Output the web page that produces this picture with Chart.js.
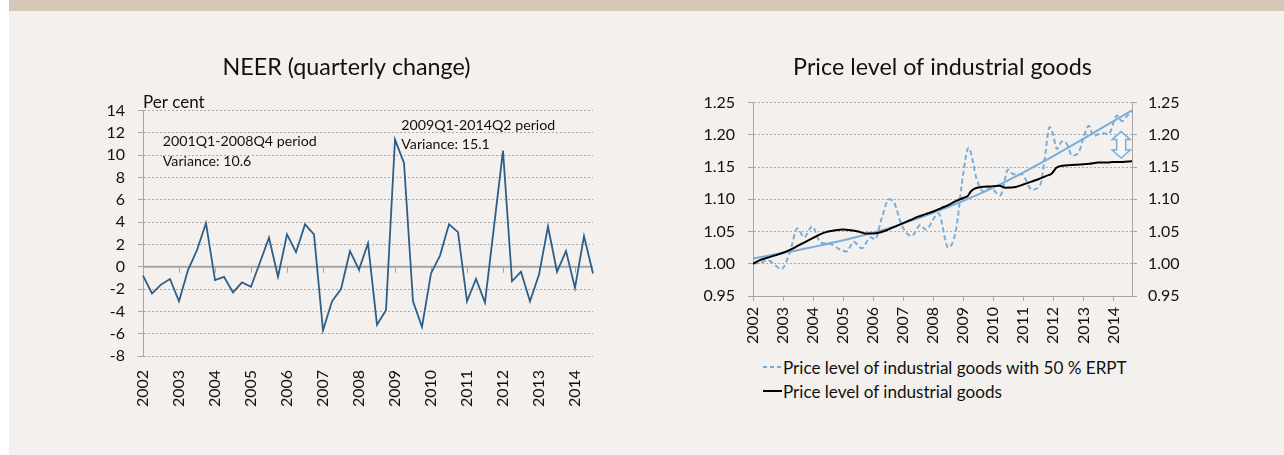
<!DOCTYPE html>
<html>
<head>
<meta charset="utf-8">
<script src="https://cdn.jsdelivr.net/npm/chart.js@4.4.1/dist/chart.umd.min.js"></script>
<style>
body{margin:0;width:1284px;height:455px;background:#fff;position:relative;overflow:hidden;font-family:Lato,sans-serif;}
#panel{position:absolute;left:9px;top:0;width:1275px;height:455px;background:#f3f0ed;}
#band{position:absolute;left:9px;top:0;width:1275px;height:11px;background:#d4c7b6;}
#neer{position:absolute;left:100px;top:40px;}
#price{position:absolute;left:698px;top:40px;}
#legend{position:absolute;left:763px;top:355px;font-size:17.1px;color:#111;}
.row{height:24px;display:flex;align-items:center;white-space:nowrap;}
.row svg{margin-right:1px;}
</style>
</head>
<body>
<div id="panel"></div>
<div id="band"></div>
<canvas id="neer" width="502" height="376"></canvas>
<canvas id="price" width="489" height="306"></canvas>
<div id="legend"></div>
<script>
// left chart: NEER quarterly change, per cent
const years = ['2002','2003','2004','2005','2006','2007','2008','2009','2010','2011','2012','2013','2014'];
const neer = [-0.8, -2.4, -1.6, -1.1, -3.1, -0.3, 1.5, 3.9, -1.2, -0.9, -2.3, -1.4, -1.8, 0.4, 2.6, -0.9,
  2.9, 1.3, 3.8, 2.9, -5.7, -3.1, -2.0, 1.4, -0.25, 2.1, -5.2, -3.9, 11.4, 9.3, -3.1, -5.4,
  -0.6, 1.0, 3.8, 3.1, -3.1, -1.1, -3.2, 3.6, 10.4, -1.3, -0.45, -3.1, -0.7, 3.6, -0.45, 1.4,
  -1.9, 2.75, -0.6];
const notes = [
  ['2001Q1-2008Q4 period', 'Variance: 10.6'],
  ['2009Q1-2014Q2 period', 'Variance: 15.1']
];

let quarters = [];
years.forEach(y => { ['Q1','Q2','Q3','Q4'].forEach(q => quarters.push(y + q)); });
quarters = quarters.slice(0, neer.length);

// right chart: price level of industrial goods
const ipgX = [2002.0, 2002.25, 2002.6, 2003.0, 2003.25, 2003.5, 2003.75, 2004.0, 2004.25, 2004.5, 2004.75,
  2005.0, 2005.25, 2005.5, 2005.75, 2006.0, 2006.25, 2006.5, 2006.75, 2007.0, 2007.25, 2007.5, 2007.75,
  2008.0, 2008.25, 2008.5, 2008.75, 2009.0, 2009.15, 2009.25, 2009.4, 2009.6, 2009.9, 2010.2, 2010.4,
  2010.75, 2011.0, 2011.25, 2011.5, 2011.75, 2011.95, 2012.1, 2012.3, 2012.6, 2012.9, 2013.2, 2013.5,
  2013.8, 2014.0, 2014.3, 2014.62];
const ipgY = [1.000, 1.006, 1.011, 1.017, 1.022, 1.028, 1.034, 1.040, 1.046, 1.050, 1.052,
  1.053, 1.052, 1.050, 1.047, 1.047, 1.049, 1.053, 1.058, 1.063, 1.068, 1.073, 1.077,
  1.081, 1.086, 1.091, 1.097, 1.102, 1.105, 1.112, 1.117, 1.119, 1.120, 1.121, 1.118,
  1.119, 1.123, 1.127, 1.131, 1.136, 1.140, 1.149, 1.152, 1.153, 1.154, 1.155, 1.157,
  1.157, 1.158, 1.158, 1.159];
const erptX = [2002.0, 2002.25, 2002.5, 2002.95, 2003.23, 2003.48, 2003.7, 2003.97, 2004.25, 2004.55, 2004.9,
  2005.12, 2005.35, 2005.62, 2005.92, 2006.07, 2006.28, 2006.53, 2006.7, 2006.95, 2007.28, 2007.57, 2007.75,
  2008.18, 2008.5, 2008.75, 2009.0, 2009.18, 2009.45, 2009.68, 2009.9, 2010.23, 2010.5, 2010.67, 2010.95,
  2011.28, 2011.57, 2011.7, 2011.88, 2011.99, 2012.12, 2012.29, 2012.46, 2012.62, 2012.84, 2013.0, 2013.18,
  2013.34, 2013.62, 2013.84, 2014.12, 2014.29, 2014.45, 2014.62];
const erptY = [1.000, 1.002, 1.005, 0.992, 1.018, 1.055, 1.041, 1.058, 1.033, 1.031, 1.022,
  1.019, 1.034, 1.024, 1.041, 1.038, 1.070, 1.100, 1.095, 1.060, 1.043, 1.060, 1.053,
  1.078, 1.025, 1.050, 1.140, 1.180, 1.131, 1.112, 1.118, 1.106, 1.146, 1.139, 1.139,
  1.115, 1.123, 1.158, 1.212, 1.201, 1.178, 1.190, 1.185, 1.168, 1.172, 1.195, 1.214,
  1.198, 1.203, 1.201, 1.230, 1.221, 1.229, 1.237];
const trendX = [2002, 2004, 2006, 2008, 2010, 2012, 2014.62];
const trendY = [1.008, 1.026, 1.048, 1.079, 1.118, 1.167, 1.238];
const gapAt = 2014.26, gapTop = 1.205, gapBottom = 1.164;

const erptLabel = 'Price level of industrial goods with 50 % ERPT';
const ipgLabel = 'Price level of industrial goods';

Chart.defaults.font.family = 'Lato, "Noto Sans", sans-serif';
Chart.defaults.color = '#111';

const axisGrey = '#a6a6a6';
const dotGrey = '#ababab';
const lightBlue = '#7aaed9';

function pts(xs, ys){
  return xs.map((x, i) => ({x: x, y: ys[i]}));
}

const neerExtras = {
  id: 'neerExtras',
  beforeDatasetsDraw(chart){
    const {ctx, chartArea, scales} = chart;
    const y0 = scales.y.getPixelForValue(0);
    ctx.save();
    ctx.strokeStyle = axisGrey;
    ctx.lineWidth = 2;
    ctx.beginPath();
    ctx.moveTo(chartArea.left, y0);
    ctx.lineTo(chartArea.right, y0);
    ctx.stroke();
    ctx.lineWidth = 1;
    ctx.beginPath();
    quarters.forEach((q, i) => {
      if(i > 0 && i % 4 === 0){
        const px = Math.round(scales.x.getPixelForValue(i)) + 0.5;
        ctx.moveTo(px, y0);
        ctx.lineTo(px, y0 + 6);
      }
    });
    ctx.stroke();
    ctx.restore();
  },
  afterDraw(chart){
    const {ctx, chartArea, scales} = chart;
    ctx.save();
    ctx.fillStyle = '#111';
    ctx.textBaseline = 'alphabetic';
    ctx.font = '17px Lato, sans-serif';
    ctx.fillText('Per cent', chartArea.left, chartArea.top - 3);
    ctx.font = '14.2px Lato, sans-serif';
    const spots = [[2.2, 10.8], [28.7, 12.3]];
    notes.forEach((lines, k) => {
      const px = scales.x.getPixelForValue(spots[k][0]);
      const py = scales.y.getPixelForValue(spots[k][1]);
      lines.forEach((t, j) => ctx.fillText(t, px, py + j * 19.5));
    });
    ctx.restore();
  }
};

const gapArrow = {
  id: 'gapArrow',
  afterDatasetsDraw(chart){
    const {ctx, scales} = chart;
    const cx = scales.x.getPixelForValue(gapAt);
    const top = scales.y.getPixelForValue(gapTop);
    const bot = scales.y.getPixelForValue(gapBottom);
    const hw = 9, sw = 4.5, hh = 8;
    ctx.save();
    ctx.beginPath();
    ctx.moveTo(cx, top);
    ctx.lineTo(cx + hw, top + hh);
    ctx.lineTo(cx + sw, top + hh);
    ctx.lineTo(cx + sw, bot - hh);
    ctx.lineTo(cx + hw, bot - hh);
    ctx.lineTo(cx, bot);
    ctx.lineTo(cx - hw, bot - hh);
    ctx.lineTo(cx - sw, bot - hh);
    ctx.lineTo(cx - sw, top + hh);
    ctx.lineTo(cx - hw, top + hh);
    ctx.closePath();
    ctx.fillStyle = '#f8f6f4';
    ctx.fill();
    ctx.strokeStyle = lightBlue;
    ctx.lineWidth = 1.5;
    ctx.stroke();
    ctx.restore();
  }
};

new Chart(document.getElementById('neer'), {
  type: 'line',
  data: {
    labels: quarters,
    datasets: [{
      data: neer,
      borderColor: '#2e5e88',
      borderWidth: 1.8,
      pointRadius: 0,
      tension: 0,
      fill: false
    }]
  },
  options: {
    responsive: false,
    animation: false,
    layout: {padding: {left: 0, right: 9, top: 0, bottom: 0}},
    plugins: {
      legend: {display: false},
      tooltip: {enabled: false},
      title: {
        display: true,
        text: 'NEER (quarterly change)',
        color: '#111',
        font: {size: 23.3, weight: 'normal'},
        padding: {top: 13, bottom: 29.6}
      }
    },
    scales: {
      x: {
        grid: {display: false, drawTicks: false},
        border: {display: false},
        ticks: {
          autoSkip: false,
          minRotation: 90,
          maxRotation: 90,
          padding: 14,
          font: {size: 16},
          color: '#111',
          callback: (v, i) => i % 4 === 0 ? quarters[i].slice(0, 4) : ''
        },
        afterFit: s => { s.height = 60; s.paddingLeft = 0; s.paddingRight = 0; }
      },
      y: {
        min: -8,
        max: 14,
        ticks: {stepSize: 2, padding: 13, font: {size: 16}, color: '#111'},
        grid: {
          color: c => c.tick && c.tick.value === 0 ? 'rgba(0,0,0,0)' : dotGrey,
          tickLength: 5,
          tickColor: axisGrey,
          lineWidth: 1
        },
        border: {color: axisGrey, width: 1, dash: [2, 2]},
        afterFit: s => { s.width = 43; }
      }
    }
  },
  plugins: [neerExtras]
});

const priceTicks = {stepSize: 0.05, font: {size: 16}, color: '#111', callback: v => v.toFixed(2)};

new Chart(document.getElementById('price'), {
  type: 'line',
  data: {
    datasets: [
      {label: ipgLabel, data: pts(ipgX, ipgY), borderColor: '#000', borderWidth: 2,
        pointRadius: 0, cubicInterpolationMode: 'monotone'},
      {label: 'Trend', data: pts(trendX, trendY), borderColor: lightBlue, borderWidth: 2,
        pointRadius: 0, cubicInterpolationMode: 'monotone'},
      {label: erptLabel, data: pts(erptX, erptY), borderColor: lightBlue, borderWidth: 2,
        borderDash: [5, 3], pointRadius: 0, cubicInterpolationMode: 'monotone'}
    ]
  },
  options: {
    responsive: false,
    animation: false,
    layout: {padding: 0},
    plugins: {
      legend: {display: false},
      tooltip: {enabled: false},
      title: {
        display: true,
        text: 'Price level of industrial goods',
        color: '#111',
        font: {size: 23.3, weight: 'normal'},
        padding: {top: 13, bottom: 21.6}
      }
    },
    scales: {
      x: {
        type: 'linear',
        min: 2002,
        max: 2014.62,
        grid: {drawOnChartArea: false, tickLength: 5, tickColor: axisGrey},
        border: {color: axisGrey, width: 1},
        ticks: {
          stepSize: 1,
          includeBounds: false,
          autoSkip: false,
          minRotation: 90,
          maxRotation: 90,
          padding: 6,
          font: {size: 16},
          color: '#111',
          callback: v => String(v)
        },
        afterFit: s => { s.height = 50; }
      },
      y: {
        type: 'linear',
        position: 'left',
        min: 0.95,
        max: 1.25,
        ticks: Object.assign({padding: 13}, priceTicks),
        grid: {color: dotGrey, tickLength: 5, tickColor: axisGrey},
        border: {color: axisGrey, width: 1, dash: [2, 2]},
        afterFit: s => { s.width = 55; }
      },
      y2: {
        type: 'linear',
        position: 'right',
        min: 0.95,
        max: 1.25,
        ticks: Object.assign({padding: 11}, priceTicks),
        grid: {drawOnChartArea: false, tickLength: 5, tickColor: axisGrey},
        border: {color: axisGrey, width: 1},
        afterFit: s => { s.width = 55; }
      }
    }
  },
  plugins: [gapArrow]
});

// legend under the right chart
const legendItems = [
  {text: erptLabel, color: lightBlue, dash: '4 3'},
  {text: ipgLabel, color: '#000', dash: ''}
];
const legend = document.getElementById('legend');
legendItems.forEach(item => {
  const row = document.createElement('div');
  row.className = 'row';
  row.innerHTML = `<svg width="19" height="4"><line x1="0" y1="2" x2="19" y2="2" stroke="${item.color}" stroke-width="2" stroke-dasharray="${item.dash}"/></svg><span>${item.text}</span>`;
  legend.appendChild(row);
});
</script>
</body>
</html>
